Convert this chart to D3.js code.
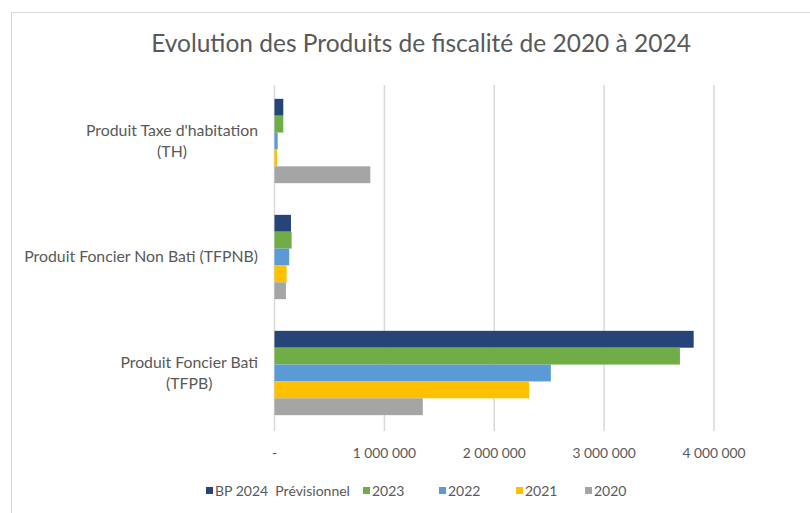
<!DOCTYPE html>
<html>
<head>
<meta charset="utf-8">
<script src="https://cdn.jsdelivr.net/npm/d3@7"></script>
<style>
  body { margin: 0; background: #fff; }
  svg { display: block; font-family: Lato, "Open Sans", sans-serif; }
</style>
</head>
<body>
<svg width="810" height="513"></svg>
<script>
const categories = [
  ["Produit Taxe d'habitation", "(TH)"],
  ["Produit Foncier Non Bati (TFPNB)"],
  ["Produit Foncier Bati", "(TFPB)"]
];
const seriesNames = ["BP 2024  Prévisionnel", "2023", "2022", "2021", "2020"];
const seriesColors = ["#264478", "#70ad47", "#5b9bd5", "#ffc000", "#a5a5a5"];
// values per category, in the order of seriesNames
const bp2024 = [80000, 150000, 3815000];
const y2023 = [80000, 156000, 3690000];
const y2022 = [29000, 134000, 2515000];
const y2021 = [25000, 110000, 2317000];
const y2020 = [872000, 104000, 1350000];
const tickValues = [0, 1000000, 2000000, 3000000, 4000000];

const values = [bp2024, y2023, y2022, y2021, y2020];
const svg = d3.select("svg");
const textColor = "#595959";

// chart frame
svg.append("rect")
  .attr("x", 11.5).attr("y", 12.5)
  .attr("width", 820).attr("height", 520)
  .attr("fill", "#fff")
  .attr("stroke", "#d9d9d9");

svg.append("text")
  .attr("x", 421).attr("y", 52)
  .attr("text-anchor", "middle")
  .attr("font-size", 24.5)
  .attr("fill", textColor)
  .text("Evolution des Produits de fiscalité de 2020 à 2024");

const x = d3.scaleLinear().domain([0, 4000000]).range([274.5, 714]);
const y = d3.scaleBand()
  .domain(d3.range(categories.length))
  .range([83, 431])
  .paddingInner(0.273)
  .paddingOuter(0.1365);
const ys = d3.scaleBand()
  .domain(d3.range(seriesNames.length))
  .range([0, y.bandwidth()]);

// gridlines
svg.append("g")
  .selectAll("line")
  .data(tickValues)
  .join("line")
  .attr("x1", d => x(d)).attr("x2", d => x(d))
  .attr("y1", 85).attr("y2", 431)
  .attr("stroke", "#d9d9d9")
  .attr("stroke-width", 1.5);

// tick labels
svg.append("g")
  .selectAll("text")
  .data(tickValues)
  .join("text")
  .attr("x", d => x(d))
  .attr("y", 458)
  .attr("text-anchor", "middle")
  .attr("font-size", 13.8)
  .attr("fill", textColor)
  .text(d => d === 0 ? "-" : d3.format(",")(d).replace(/,/g, " "));

// bars
const groups = svg.append("g")
  .selectAll("g")
  .data(categories.map((c, i) => i))
  .join("g")
  .attr("transform", i => `translate(0,${y(i)})`);

groups.selectAll("rect")
  .data(i => values.map((s, k) => ({ k, v: s[i] })))
  .join("rect")
  .attr("x", x(0))
  .attr("y", d => ys(d.k))
  .attr("width", d => x(d.v) - x(0))
  .attr("height", ys.bandwidth())
  .attr("fill", d => seriesColors[d.k]);

// category labels
const catLabels = svg.append("g")
  .selectAll("text")
  .data(categories)
  .join("text")
  .attr("font-size", 15.8)
  .attr("fill", textColor)
  .attr("text-anchor", "middle");

catLabels.each(function(lines, i) {
  const t = d3.select(this);
  const cy = y(i) + y.bandwidth() / 2;
  const lh = 21;
  const y0 = cy - (lines.length - 1) * lh / 2 + 5;
  lines.forEach((l, j) => {
    t.append("tspan").attr("x", 0).attr("y", y0 + j * lh).text(l);
  });
  // right-align the block at x = 258, center lines within it
  const w = this.getBBox().width;
  t.selectAll("tspan").attr("x", 258 - w / 2);
});

// legend
const legendX = [206, 363, 439, 516, 585];
const legend = svg.append("g")
  .selectAll("g")
  .data(seriesNames)
  .join("g")
  .attr("transform", (d, i) => `translate(${legendX[i]},491)`);
legend.append("rect")
  .attr("x", 0).attr("y", -4)
  .attr("width", 7).attr("height", 7)
  .attr("fill", (d, i) => seriesColors[i]);
legend.append("text")
  .attr("x", 9).attr("y", 5)
  .attr("font-size", 14)
  .attr("fill", textColor)
  .attr("xml:space", "preserve")
  .style("white-space", "pre")
  .text(d => d);
</script>
</body>
</html>
